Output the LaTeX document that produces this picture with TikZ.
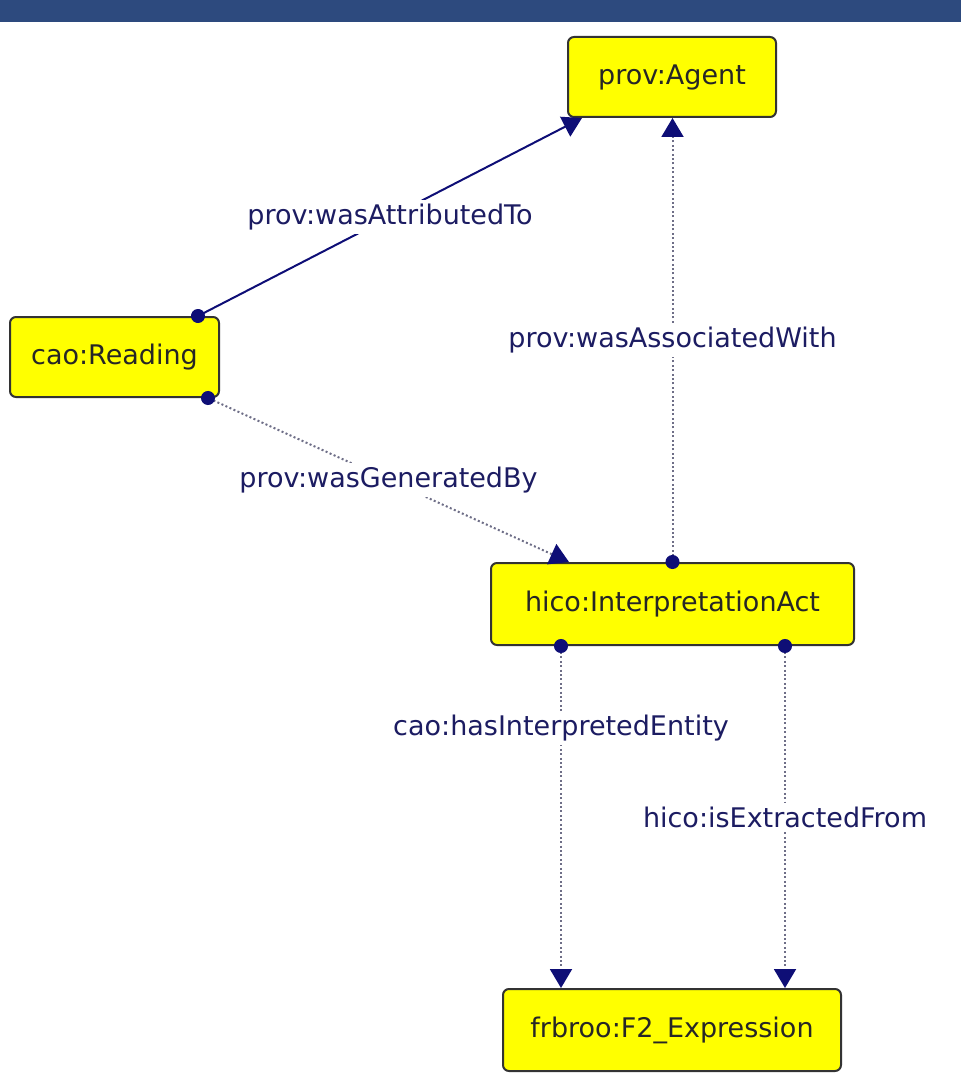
\documentclass[tikz,border=0pt]{standalone}
\usepackage{fontspec}
\setmainfont{DejaVu Sans}
\usetikzlibrary{arrows.meta,positioning,calc}
\definecolor{barblue}{RGB}{45,74,126}
\definecolor{boxyellow}{RGB}{255,255,0}
\definecolor{navy}{RGB}{14,14,118}
\definecolor{labelblue}{RGB}{28,28,98}
\definecolor{dotgray}{RGB}{110,110,135}
\tikzstyle{Cstate}=[shape=rectangle,rounded corners=3pt,draw=black!80,line width=1pt,fill=boxyellow,text=black!85,font=\fontsize{13.5}{16}\selectfont,inner sep=0pt]
\tikzstyle{propedge}=[{Circle[length=7pt,color=navy]}-{Triangle[length=9.5pt,width=11pt,color=navy]},navy,line width=1pt,shorten <=-3.5pt]
\tikzstyle{lightedge}=[propedge,draw=dotgray,dash pattern=on 1pt off 1.2pt]
\tikzstyle{elabel}=[fill=white,text=labelblue,font=\fontsize{13.5}{16}\selectfont,inner sep=2pt]

\begin{document}
\begin{tikzpicture}[x=0.5pt,y=-0.5pt]

\useasboundingbox (0,0) rectangle (961,1091);
\fill[barblue] (0,0) rectangle (961,22);

\node[Cstate,minimum width=104pt,minimum height=40pt] (AGENT) at (672,77){prov:Agent};

\node[Cstate,minimum width=104.5pt,minimum height=40pt] (READING) at (114.5,357){cao:Reading};

\node[Cstate,minimum width=181.5pt,minimum height=41pt] (ACT) at (672.5,604){hico:InterpretationAct};

\node[Cstate,minimum width=169pt,minimum height=41pt] (EXPR) at (672,1030){frbroo:F2\_Expression};

\coordinate (ACTleft) at ($(ACT.south west)+(71,0)$);
\coordinate (ACTright) at ($(ACT.south east)+(-70,0)$);

 \path 

($(READING.north east)+(-22,0)$) edge [propedge] node[elabel] {prov:wasAttributedTo} ($(AGENT.south west)+(15,0)$)
(ACT.north) edge [lightedge] node[elabel] {prov:wasAssociatedWith} (ACT.north |- AGENT.south)
($(READING.south east)+(-12,0)$) edge [lightedge] node[elabel] {prov:wasGeneratedBy} ($(ACT.north west)+(79,0)$)
(ACTleft) edge [lightedge] node[elabel,pos=0.24] {cao:hasInterpretedEntity} (ACTleft |- EXPR.north)
(ACTright) edge [lightedge] node[elabel] {hico:isExtractedFrom} (ACTright |- EXPR.north);

\end{tikzpicture}
\end{document}
